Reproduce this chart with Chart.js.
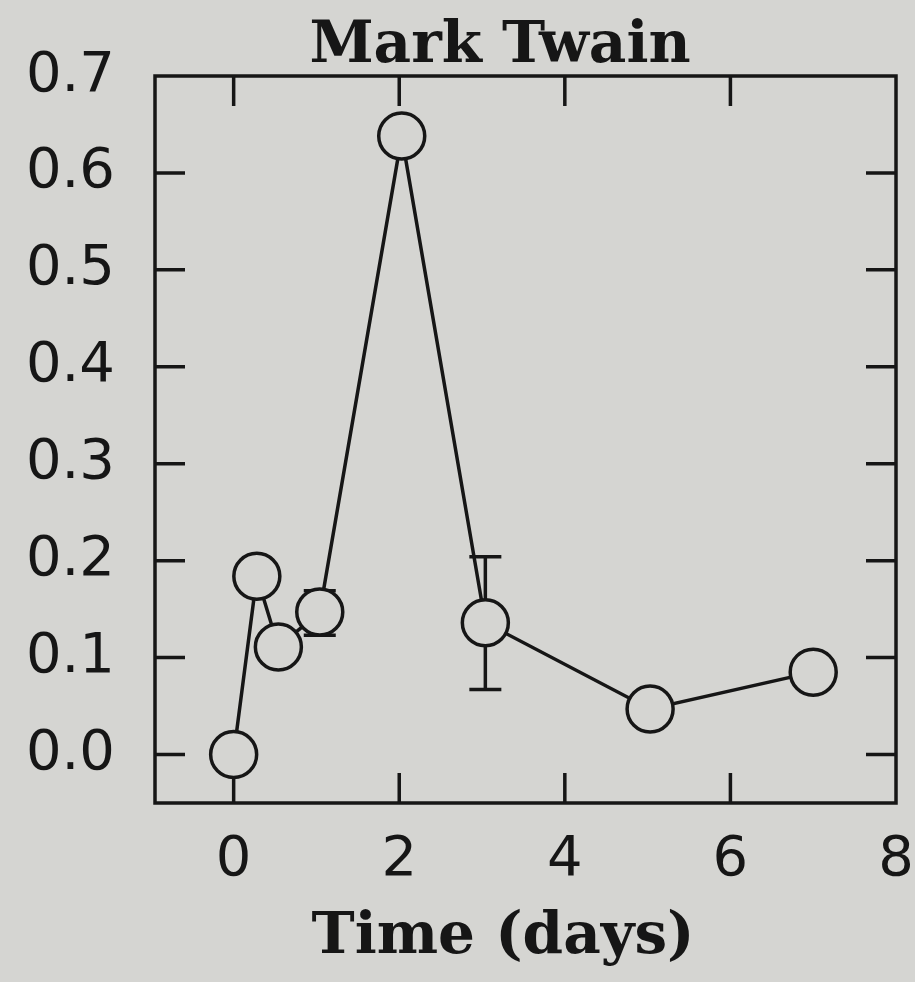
<!DOCTYPE html>
<html>
<head>
<meta charset="utf-8">
<script src="https://cdn.jsdelivr.net/npm/chart.js@4"></script>
<style>
  html, body { margin: 0; padding: 0; background: #d5d5d2; }
  #wrap { width: 915px; height: 982px; }
</style>
</head>
<body>
<div id="wrap"><canvas id="c" width="915" height="982"></canvas></div>
<script>
// Series: concentration over time, with error ranges on two samples
const chartTitle = 'Mark Twain';
const xAxisTitle = 'Time (days)';
const timeDays = [0, 0.28, 0.54, 1.04, 2.03, 3.04, 5.03, 7.0];
const values   = [0.0, 0.184, 0.111, 0.147, 0.638, 0.136, 0.047, 0.085];
const errLow   = [null, null, null, 0.123, null, 0.067, null, null];
const errHigh  = [null, null, null, 0.169, null, 0.204, null, null];

// Axis labels and the inward tick marks
const xTickLabels = [0, 2, 4, 6, 8];
const yTickLabels = [0.0, 0.1, 0.2, 0.3, 0.4, 0.5, 0.6, 0.7];
const xTickMarks = [0, 2, 4, 6];
const yTickMarks = [0.0, 0.1, 0.2, 0.3, 0.4, 0.5, 0.6];

const BG = '#d5d5d2';
const INK = '#161616';

const points = timeDays.map((t, i) => ({ x: t, y: values[i] }));

// Frame, inward ticks, error bars and the titles
const decor = {
  id: 'decor',
  beforeDatasetsDraw(chart) {
    const { ctx, chartArea: a, scales: { x, y } } = chart;
    ctx.save();
    ctx.strokeStyle = INK;
    ctx.lineWidth = 3.5;
    ctx.lineCap = 'butt';
    ctx.strokeRect(a.left, a.top, a.right - a.left, a.bottom - a.top);
    const L = 30;
    ctx.beginPath();
    xTickMarks.forEach(v => {
      const px = x.getPixelForValue(v);
      ctx.moveTo(px, a.bottom); ctx.lineTo(px, a.bottom - L);
      ctx.moveTo(px, a.top); ctx.lineTo(px, a.top + L);
    });
    yTickMarks.forEach(v => {
      const py = y.getPixelForValue(v);
      ctx.moveTo(a.left, py); ctx.lineTo(a.left + L, py);
      ctx.moveTo(a.right, py); ctx.lineTo(a.right - L, py);
    });
    ctx.stroke();
    // error bars
    const cap = 16;
    ctx.beginPath();
    timeDays.forEach((t, i) => {
      if (errLow[i] == null) return;
      const px = x.getPixelForValue(t);
      const lo = y.getPixelForValue(errLow[i]);
      const hi = y.getPixelForValue(errHigh[i]);
      ctx.moveTo(px, lo); ctx.lineTo(px, hi);
      ctx.moveTo(px - cap, lo); ctx.lineTo(px + cap, lo);
      ctx.moveTo(px - cap, hi); ctx.lineTo(px + cap, hi);
    });
    ctx.stroke();
    ctx.restore();
  },
  afterDraw(chart) {
    const { ctx } = chart;
    ctx.save();
    ctx.fillStyle = INK;
    ctx.textAlign = 'center';
    ctx.textBaseline = 'alphabetic';
    ctx.font = 'bold 58px "DejaVu Serif"';
    ctx.fillText(chartTitle, 500, 62);
    ctx.fillText(xAxisTitle, 503, 953);
    ctx.restore();
  }
};

new Chart(document.getElementById('c'), {
  type: 'scatter',
  data: {
    datasets: [{
      data: points,
      showLine: true,
      borderColor: INK,
      borderWidth: 3.5,
      pointRadius: 23,
      pointHoverRadius: 23,
      pointBorderWidth: 3.5,
      pointBorderColor: INK,
      pointBackgroundColor: BG,
      clip: false
    }]
  },
  options: {
    responsive: false,
    animation: false,
    events: [],
    layout: { autoPadding: false, padding: { top: 76, right: 19, left: 0, bottom: 0 } },
    plugins: { legend: { display: false }, tooltip: { enabled: false }, title: { display: false } },
    scales: {
      x: {
        type: 'linear',
        min: -0.95, max: 8,
        afterFit(s) { s.height = 179; s.paddingLeft = 0; s.paddingRight = 0; },
        afterBuildTicks(s) { s.ticks = xTickLabels.map(v => ({ value: v })); },
        grid: { display: false, drawTicks: false },
        border: { display: false },
        ticks: {
          color: INK,
          padding: 24,
          maxRotation: 0,
          font: { family: 'DejaVu Sans', size: 56 },
          callback: v => String(v)
        }
      },
      y: {
        type: 'linear',
        min: -0.05, max: 0.7,
        afterFit(s) { s.width = 155; s.paddingTop = 0; s.paddingBottom = 0; },
        afterBuildTicks(s) { s.ticks = yTickLabels.map(v => ({ value: v })); },
        grid: { display: false, drawTicks: false },
        border: { display: false },
        ticks: {
          color: INK,
          padding: 40,
          font: { family: 'DejaVu Sans', size: 56 },
          callback: v => v.toFixed(1)
        }
      }
    }
  },
  plugins: [decor]
});
</script>
</body>
</html>
